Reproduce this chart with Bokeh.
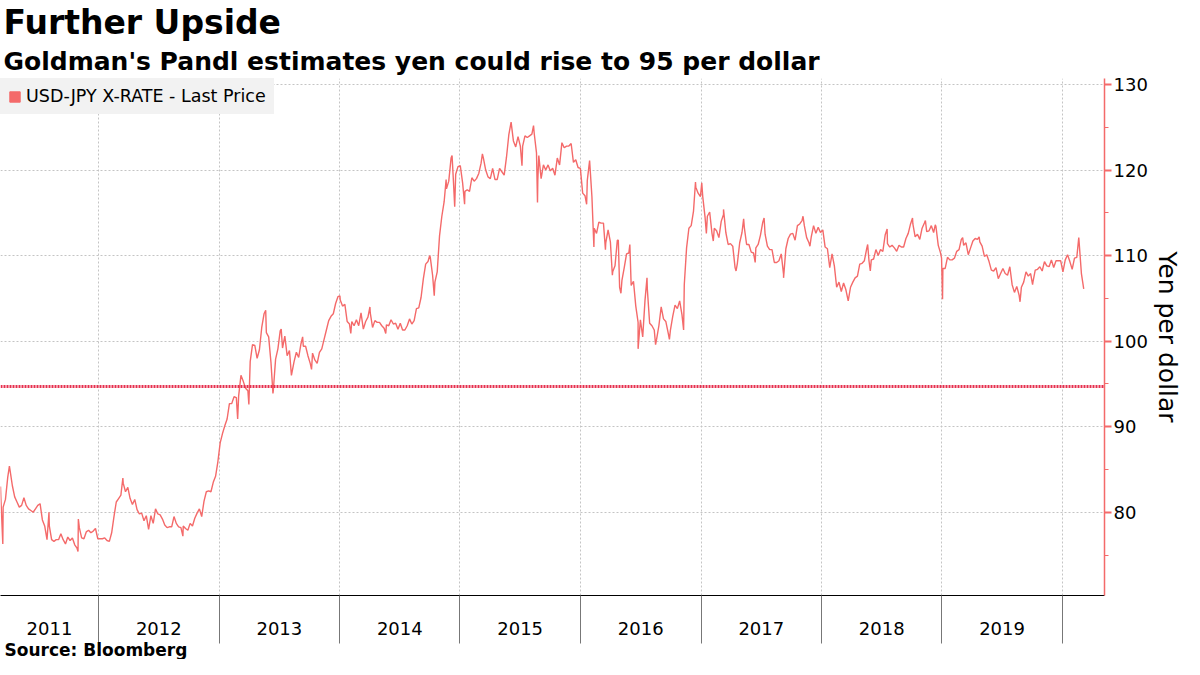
import pandas as pd
from bokeh.plotting import figure
from bokeh.models import (ColumnDataSource, FixedTicker, Legend, LegendItem,
                          Range1d, Span, Title)
from bokeh.embed import file_html
from bokeh.resources import INLINE

# USD-JPY weekly (Friday) closes
usdjpy_2011 = [81.8, 80.6, 81.5, 84.1, 84.9, 83.1, 81.8, 81.2, 80.6, 80.8,
               81.7, 80.8, 80.4, 80.2, 80.0, 80.4, 80.8, 81.0, 79.1, 78.4,
               76.8, 78.4, 76.8, 76.6, 76.8, 76.8, 77.5, 76.8, 76.3, 77.1,
               76.7, 77.0, 76.2, 75.8, 78.2, 77.0, 76.9, 77.7, 77.9, 77.6,
               77.8, 78.1, 76.9]
usdjpy_2012 = [76.9, 76.9, 77.0, 76.7, 76.6, 77.6, 79.5, 81.2, 81.6, 82.0,
               83.4, 82.4, 82.9, 81.6, 80.9, 81.5, 80.3, 79.8, 79.9, 79.0,
               79.6, 78.0, 79.6, 78.7, 80.4, 79.8, 79.7, 79.2, 78.5, 78.2,
               78.3, 78.3, 79.5, 78.7, 78.3, 78.2, 78.4, 78.1, 77.9, 78.7,
               78.4, 79.3, 79.9, 80.4, 79.5, 81.3, 82.4, 82.5, 82.4, 83.5,
               84.2, 85.9]
usdjpy_2013 = [88.1, 89.2, 90.1, 90.9, 92.7, 92.7, 93.5, 93.4, 93.6, 96.0,
               95.3, 94.5, 94.2, 97.6, 99.6, 99.5, 98.0, 99.0, 101.6, 103.2,
               101.0, 100.5, 97.5, 94.2, 97.9, 99.1, 101.2, 99.2, 100.6, 98.3,
               98.9, 96.2, 97.6, 98.7, 98.1, 99.7, 99.4, 99.4, 98.3, 97.4,
               98.6, 97.8, 97.4, 98.7, 99.1, 100.2, 101.3, 102.4, 102.9, 103.2,
               104.4, 105.2]
usdjpy_2014 = [104.8, 104.1, 104.3, 102.3, 102.0, 102.3, 101.8, 102.5, 101.8, 103.3,
               101.4, 102.3, 102.8, 103.3, 101.6, 102.4, 102.2, 102.2, 101.8, 101.5,
               101.9, 101.8, 102.5, 102.0, 102.1, 101.4, 102.1, 101.3, 101.3, 101.8,
               102.6, 102.0, 102.4, 103.8, 103.9, 105.1, 107.3, 109.0, 109.3, 109.8,
               107.7, 106.9, 108.1, 112.3, 114.6, 116.3, 117.8, 118.7, 121.4, 118.8,
               119.5, 120.4]
usdjpy_2015 = [120.5, 118.5, 117.5, 117.7, 117.5, 119.1, 118.7, 119.0, 119.6, 120.8,
               121.4, 120.0, 119.2, 119.0, 120.2, 118.9, 118.9, 120.2, 119.8, 119.4,
               121.5, 124.1, 125.6, 123.4, 122.7, 123.9, 122.8, 122.8, 124.0, 123.8,
               124.0, 124.2, 124.3, 122.0, 121.7, 119.0, 120.6, 120.0, 120.6, 119.9,
               120.2, 119.4, 121.4, 120.6, 123.2, 122.6, 122.8, 122.8, 123.1, 120.9,
               121.2, 120.3]
usdjpy_2016 = [120.2, 117.3, 117.0, 118.8, 121.1, 116.9, 113.2, 112.6, 113.9, 113.8,
               113.8, 111.5, 113.0, 111.6, 108.1, 108.8, 111.8, 106.3, 107.1, 108.6,
               110.2, 110.3, 106.5, 107.0, 104.1, 102.2, 102.5, 100.5, 104.8, 106.1,
               102.1, 101.8, 101.3, 100.2, 101.8, 104.0, 102.6, 102.3, 101.0, 101.3,
               102.9, 104.2, 103.8, 104.7, 103.1, 106.6, 110.9, 113.2, 113.5, 115.2,
               118.0, 117.3, 116.9]
usdjpy_2017 = [116.9, 114.5, 114.6, 115.1, 112.6, 113.2, 112.9, 112.1, 114.0, 114.8,
               112.7, 111.3, 111.4, 111.1, 108.6, 109.1, 111.5, 112.7, 113.3, 111.3,
               111.3, 110.4, 110.3, 110.9, 111.3, 112.4, 113.9, 112.5, 111.1, 110.7,
               110.7, 109.2, 109.2, 109.4, 110.2, 107.8, 110.8, 112.0, 112.5, 112.6,
               111.8, 113.5, 113.7, 114.1, 113.5, 112.1, 111.5, 112.2, 113.5, 112.6,
               113.3, 112.7]
usdjpy_2018 = [113.0, 111.0, 110.8, 108.6, 110.2, 108.8, 106.3, 106.9, 105.8, 106.8,
               106.0, 104.7, 106.3, 106.9, 107.4, 107.6, 109.0, 109.1, 109.4, 110.8,
               109.4, 109.5, 109.6, 110.7, 110.0, 110.7, 110.5, 112.4, 111.4, 111.0,
               111.2, 110.9, 110.5, 111.2, 111.0, 111.0, 112.0, 112.6, 113.7, 113.7,
               112.2, 112.5, 111.9, 113.2, 113.8, 112.8, 112.9, 113.5, 112.7, 113.4,
               111.2, 110.3]
usdjpy_2019 = [108.5, 108.5, 109.8, 109.5, 109.5, 109.7, 110.5, 110.7, 111.9, 111.2,
               111.5, 110.1, 110.9, 111.7, 112.0, 111.9, 111.6, 111.1, 109.9, 110.1,
               109.3, 108.3, 108.2, 108.6, 107.3, 107.9, 108.5, 107.9, 107.7, 108.7,
               106.6, 105.7, 106.4, 105.4, 106.3, 106.9, 108.1, 107.6, 107.9, 106.9,
               108.3, 108.4, 108.7, 108.2, 109.3, 108.8, 108.7, 109.5, 108.6, 109.4,
               109.4, 109.4]
usdjpy_2020 = [108.1, 109.5, 110.1, 109.3, 108.4, 109.7, 109.8, 111.6, 107.9, 106.1]

# first Friday of each block of weekly closes
week_starts = ["2011-03-11", "2012-01-06", "2013-01-04", "2014-01-03", "2015-01-02",
               "2016-01-01", "2017-01-06", "2018-01-05", "2019-01-04", "2020-01-03"]

# intraday extremes visible as spikes on the chart
spike_dates = ["2011-03-10", "2011-03-17", "2011-04-06", "2011-08-04", "2011-10-31",
               "2011-11-01", "2012-03-15", "2012-09-13", "2013-02-26", "2013-04-01",
               "2013-05-22", "2013-06-13", "2013-07-08", "2013-08-08", "2013-09-11",
               "2013-10-08", "2014-01-02", "2014-02-04", "2014-04-03", "2014-05-21",
               "2014-10-01", "2014-10-15", "2014-11-20", "2014-12-08", "2014-12-16",
               "2015-01-15", "2015-03-10", "2015-07-08", "2015-08-12", "2015-08-24",
               "2015-08-25", "2016-01-20", "2016-02-11", "2016-03-17", "2016-04-07",
               "2016-04-25", "2016-05-03", "2016-05-30", "2016-06-24", "2016-07-21",
               "2016-08-16", "2016-09-27", "2016-11-09", "2016-12-15", "2017-01-03",
               "2017-01-17", "2017-02-07", "2017-03-10", "2017-04-17", "2017-05-10",
               "2017-06-14", "2017-07-11", "2017-09-08", "2017-11-06", "2017-11-27",
               "2018-05-21", "2018-05-29", "2018-07-19", "2018-10-04", "2018-11-12",
               "2018-12-12", "2018-12-31", "2019-01-03", "2019-03-05", "2019-04-24",
               "2019-08-26", "2019-10-03", "2020-02-20"]
spike_values = [83.0, 76.3, 85.4, 80.0, 75.4,
                79.2, 84.0, 77.2, 90.9, 92.6,
                103.6, 93.9, 101.4, 96.0, 100.5,
                96.7, 105.3, 100.9, 104.0, 100.9,
                110.0, 105.3, 118.9, 121.7, 115.7,
                116.0, 121.9, 120.5, 125.2, 116.2,
                118.8, 116.0, 111.0, 110.7, 107.7,
                111.8, 105.6, 111.3, 99.1, 107.4,
                99.6, 100.2, 101.3, 118.6, 118.5,
                112.6, 111.7, 115.4, 108.2, 114.3,
                109.2, 114.4, 107.4, 114.6, 111.1,
                111.3, 108.2, 113.1, 114.4, 114.1,
                113.6, 109.7, 104.9, 112.1, 112.2,
                104.6, 106.6, 112.1]

year_labels = ["2011", "2012", "2013", "2014", "2015", "2016", "2017", "2018", "2019"]
y_ticks = [80, 90, 100, 110, 120, 130]
y_minor = [75, 85, 95, 105, 115, 125]
target_level = 94.7

weekly_blocks = [usdjpy_2011, usdjpy_2012, usdjpy_2013, usdjpy_2014, usdjpy_2015,
                 usdjpy_2016, usdjpy_2017, usdjpy_2018, usdjpy_2019, usdjpy_2020]

parts = []
for start, vals in zip(week_starts, weekly_blocks):
    d = pd.date_range(start, periods=len(vals), freq="W-FRI")
    parts.append(pd.DataFrame({"date": d, "rate": vals}))
parts.append(pd.DataFrame({"date": pd.to_datetime(spike_dates), "rate": spike_values}))
df = pd.concat(parts).sort_values("date", kind="stable").reset_index(drop=True)
source = ColumnDataSource(df)


def ms(s):
    return float(pd.Timestamp(s).value // 10**6)


x_start = ms("2011-03-10")
x_end = ms("2020-05-08")

year_bounds = [ms(f"{y}-01-01") for y in range(2012, 2021)]
label_pos = []
for lbl in year_labels:
    lo = max(ms(f"{lbl}-01-01"), x_start)
    hi = ms(f"{int(lbl) + 1}-01-01")
    label_pos.append((lo + hi) / 2)

LINE = "#f46a6a"
FONT = "DejaVu Sans"

p = figure(width=1184, height=659, x_axis_type="datetime", y_axis_location="right",
           x_range=Range1d(x_start, x_end), y_range=Range1d(70.27, 130.7),
           output_backend="svg", toolbar_location=None,
           min_border_left=0, min_border_right=0, min_border_top=0, min_border_bottom=0)
p.outline_line_color = None

sub = Title(text="Goldman's Pandl estimates yen could rise to 95 per dollar",
            text_font=FONT, text_font_size="25px", text_font_style="bold",
            text_color="black", align="left", offset=3, standoff=6)
p.add_layout(sub, "above")
ttl = Title(text="Further Upside", text_font=FONT, text_font_size="33px",
            text_font_style="bold", text_color="black", align="left", offset=3,
            standoff=0)
p.add_layout(ttl, "above")
src = Title(text="Source:  Bloomberg", text_font=FONT, text_font_size="17px",
            text_font_style="bold", text_color="black", align="left", offset=4,
            standoff=0)
p.add_layout(src, "below")

line = p.line("date", "rate", source=source, line_color=LINE, line_width=1.4)
# hidden twin of the series, only used for the square swatch in the legend
proxy = p.vbar(x="date", top="rate", width=1, source=source,
               fill_color=LINE, line_color=LINE, visible=False)

p.add_layout(Span(location=target_level, dimension="width", line_color="#e6304f",
                  line_width=3, line_dash="2 1"))

# x axis: year boundaries as long minor ticks, labels centred between them
p.xaxis.ticker = FixedTicker(ticks=label_pos, minor_ticks=year_bounds)
p.xaxis.major_label_overrides = {pos: lbl for pos, lbl in zip(label_pos, year_labels)}
p.xaxis.major_tick_out = 0
p.xaxis.major_tick_in = 0
p.xaxis.minor_tick_out = 48
p.xaxis.minor_tick_in = 0
p.xaxis.minor_tick_line_color = "#777777"
p.xaxis.axis_line_color = "black"
p.xaxis.major_label_standoff = -22
p.xaxis.major_label_text_font = FONT
p.xaxis.major_label_text_font_size = "18px"
p.xaxis.major_label_text_color = "black"

p.yaxis.ticker = FixedTicker(ticks=y_ticks, minor_ticks=y_minor)
p.yaxis.axis_line_color = LINE
p.yaxis.axis_line_width = 1.5
p.yaxis.major_tick_line_color = LINE
p.yaxis.major_tick_line_width = 2
p.yaxis.major_tick_out = 7
p.yaxis.major_tick_in = 0
p.yaxis.minor_tick_line_color = LINE
p.yaxis.minor_tick_out = 4
p.yaxis.minor_tick_in = 0
p.yaxis.major_label_standoff = 2
p.yaxis.major_label_text_font = FONT
p.yaxis.major_label_text_font_size = "18px"
p.yaxis.major_label_text_color = "black"
p.yaxis.axis_label = "Yen per dollar"
p.yaxis.axis_label_text_font = FONT
p.yaxis.axis_label_text_font_size = "25px"
p.yaxis.axis_label_text_font_style = "normal"
p.yaxis.axis_label_text_color = "black"
p.yaxis.axis_label_standoff = 2

p.xgrid.ticker = FixedTicker(ticks=year_bounds)
for g in (p.xgrid, p.ygrid):
    g.grid_line_color = "#c4c4c4"
    g.grid_line_dash = "2 2"

legend = Legend(items=[LegendItem(label="USD-JPY X-RATE - Last Price", renderers=[proxy])],
                location="top_left", margin=0, padding=8, spacing=0,
                background_fill_color="#f2f2f2", background_fill_alpha=1,
                border_line_alpha=0, glyph_width=13, glyph_height=13,
                inactive_fill_alpha=0, label_standoff=5, label_text_font=FONT,
                label_text_font_size="17.5px", label_text_color="black")
p.add_layout(legend)

open("out.html", "w").write(file_html(p, INLINE))
